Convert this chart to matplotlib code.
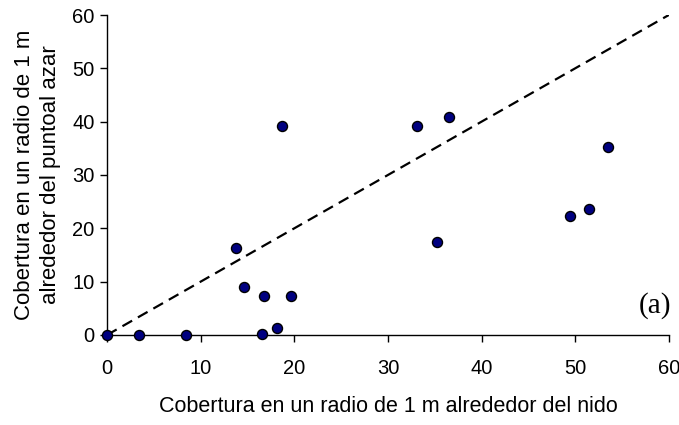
import matplotlib
matplotlib.use("Agg")
import matplotlib.pyplot as plt

nest_cover = [0, 3.4, 8.4, 13.8, 14.6, 16.8, 16.5, 18.2, 19.6, 18.7,
              33.1, 36.5, 35.2, 49.4, 51.5, 53.5]
random_cover = [0, 0, 0, 16.4, 9.0, 7.3, 0.2, 1.3, 7.3, 39.2,
                39.2, 40.9, 17.4, 22.4, 23.7, 35.3]
ref_line = [0, 60]
ticks = [0, 10, 20, 30, 40, 50, 60]

plt.rcParams['font.family'] = ['Liberation Sans', 'DejaVu Sans']

fig = plt.figure(figsize=(6.79, 4.25), dpi=100)
ax = fig.add_axes([0.1576, 0.2118, 0.985 - 0.1576, 0.9647 - 0.2118])

ax.plot(ref_line, ref_line, color='black', lw=1.6, linestyle=(0, (5, 3)), zorder=2)
ax.scatter(nest_cover, random_cover, s=52, color='#000080', edgecolors='black',
           linewidths=1.0, zorder=3, clip_on=False)

ax.set_xlim(0, 60)
ax.set_ylim(0, 60)
ax.set_xticks(ticks)
ax.set_yticks(ticks)
ax.tick_params(axis='both', direction='out', length=5, width=1, labelsize=14.5)
ax.tick_params(axis='x', pad=12)
ax.tick_params(axis='y', pad=4)
for s in ['top', 'right']:
    ax.spines[s].set_visible(False)
for s in ['left', 'bottom']:
    ax.spines[s].set_linewidth(1)

ax.set_xlabel('Cobertura en un radio de 1 m alrededor del nido', fontsize=15.5, labelpad=13)
ax.set_ylabel('Cobertura en un radio de 1 m\nalrededor del puntoal azar', fontsize=16,
              labelpad=8, linespacing=1.3)

ax.text(60.3, 5.6, '(a)', family=['Liberation Serif', 'DejaVu Serif'], fontsize=21,
        ha='right', va='center')

fig.savefig('out.png', dpi=100)
